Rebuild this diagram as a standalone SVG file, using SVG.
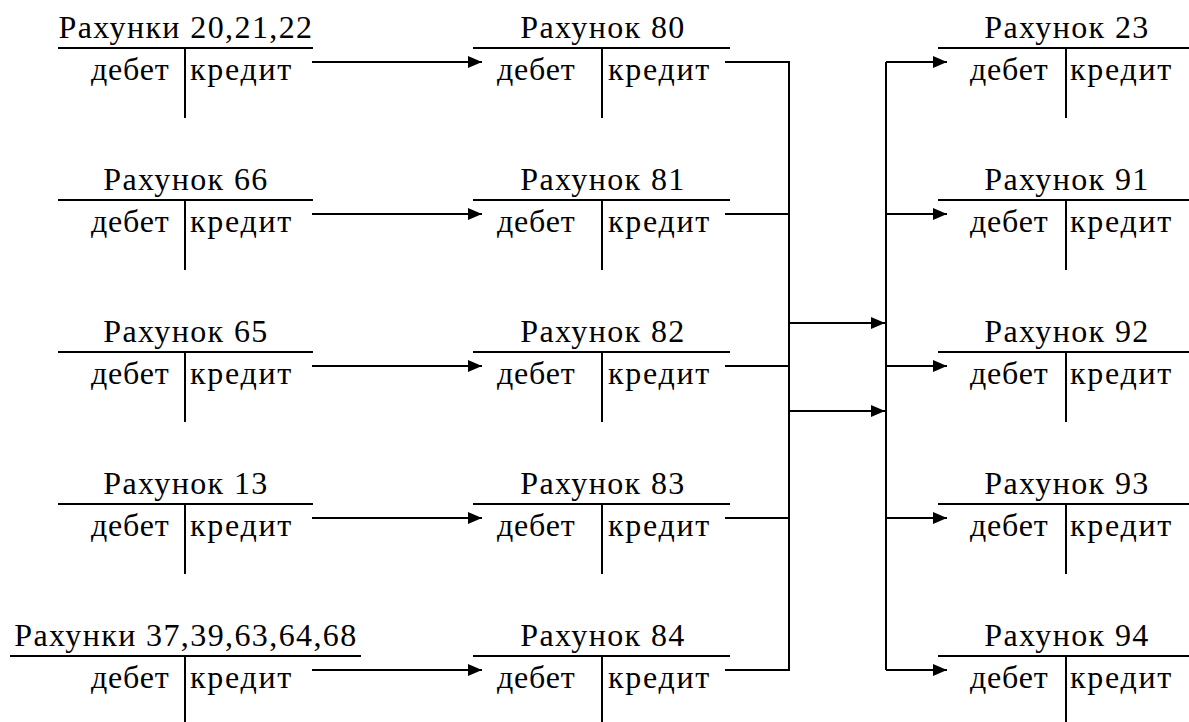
<svg xmlns="http://www.w3.org/2000/svg" width="1189" height="722" viewBox="0 0 1189 722">
<defs>
<marker id="ah" markerWidth="14" markerHeight="12" refX="14" refY="6" orient="auto" markerUnits="userSpaceOnUse">
<path d="M0,0 L14,6 L0,12 Z" fill="#000"/>
</marker>
<style>
text{font-family:"Liberation Serif",Tinos,"Times New Roman",Times,"DejaVu Serif",serif;font-size:32px;letter-spacing:1.4px;fill:#000}
.t{text-anchor:middle}
.d{letter-spacing:0.8px}
.k{letter-spacing:1.7px}
line,path.c{stroke:#000;stroke-width:2;fill:none}
</style>
</defs>
<rect width="1189" height="722" fill="#fff"/>
<g id="acc-20-21-22"><text class="t" x="186" y="38">Рахунки 20,21,22</text><line x1="58" y1="48" x2="313" y2="48"/><line x1="185" y1="48" x2="185" y2="118"/><text class="d" x="91" y="80">дебет</text><text class="k" x="190" y="80">кредит</text></g>
<g id="acc-66"><text class="t" x="186" y="190">Рахунок 66</text><line x1="58" y1="200" x2="313" y2="200"/><line x1="185" y1="200" x2="185" y2="270"/><text class="d" x="91" y="232">дебет</text><text class="k" x="190" y="232">кредит</text></g>
<g id="acc-65"><text class="t" x="186" y="342">Рахунок 65</text><line x1="58" y1="352" x2="313" y2="352"/><line x1="185" y1="352" x2="185" y2="422"/><text class="d" x="91" y="384">дебет</text><text class="k" x="190" y="384">кредит</text></g>
<g id="acc-13"><text class="t" x="186" y="494">Рахунок 13</text><line x1="58" y1="504" x2="313" y2="504"/><line x1="185" y1="504" x2="185" y2="574"/><text class="d" x="91" y="536">дебет</text><text class="k" x="190" y="536">кредит</text></g>
<g id="acc-37-68"><text class="t" x="186" y="646">Рахунки 37,39,63,64,68</text><line x1="10" y1="656" x2="361" y2="656"/><line x1="185" y1="656" x2="185" y2="722"/><text class="d" x="91" y="688">дебет</text><text class="k" x="190" y="688">кредит</text></g>
<g id="acc-80"><text class="t" x="603" y="38">Рахунок 80</text><line x1="473" y1="48" x2="730" y2="48"/><line x1="602" y1="48" x2="602" y2="118"/><text class="d" x="497" y="80">дебет</text><text class="k" x="608" y="80">кредит</text></g>
<g id="acc-81"><text class="t" x="603" y="190">Рахунок 81</text><line x1="473" y1="200" x2="730" y2="200"/><line x1="602" y1="200" x2="602" y2="270"/><text class="d" x="497" y="232">дебет</text><text class="k" x="608" y="232">кредит</text></g>
<g id="acc-82"><text class="t" x="603" y="342">Рахунок 82</text><line x1="473" y1="352" x2="730" y2="352"/><line x1="602" y1="352" x2="602" y2="422"/><text class="d" x="497" y="384">дебет</text><text class="k" x="608" y="384">кредит</text></g>
<g id="acc-83"><text class="t" x="603" y="494">Рахунок 83</text><line x1="473" y1="504" x2="730" y2="504"/><line x1="602" y1="504" x2="602" y2="574"/><text class="d" x="497" y="536">дебет</text><text class="k" x="608" y="536">кредит</text></g>
<g id="acc-84"><text class="t" x="603" y="646">Рахунок 84</text><line x1="473" y1="656" x2="730" y2="656"/><line x1="602" y1="656" x2="602" y2="722"/><text class="d" x="497" y="688">дебет</text><text class="k" x="608" y="688">кредит</text></g>
<g id="acc-23"><text class="t" x="1067" y="38">Рахунок 23</text><line x1="938" y1="48" x2="1189" y2="48"/><line x1="1066" y1="48" x2="1066" y2="118"/><text class="d" x="970" y="80">дебет</text><text class="k" x="1070" y="80">кредит</text></g>
<g id="acc-91"><text class="t" x="1067" y="190">Рахунок 91</text><line x1="938" y1="200" x2="1189" y2="200"/><line x1="1066" y1="200" x2="1066" y2="270"/><text class="d" x="970" y="232">дебет</text><text class="k" x="1070" y="232">кредит</text></g>
<g id="acc-92"><text class="t" x="1067" y="342">Рахунок 92</text><line x1="938" y1="352" x2="1189" y2="352"/><line x1="1066" y1="352" x2="1066" y2="422"/><text class="d" x="970" y="384">дебет</text><text class="k" x="1070" y="384">кредит</text></g>
<g id="acc-93"><text class="t" x="1067" y="494">Рахунок 93</text><line x1="938" y1="504" x2="1189" y2="504"/><line x1="1066" y1="504" x2="1066" y2="574"/><text class="d" x="970" y="536">дебет</text><text class="k" x="1070" y="536">кредит</text></g>
<g id="acc-94"><text class="t" x="1067" y="646">Рахунок 94</text><line x1="938" y1="656" x2="1189" y2="656"/><line x1="1066" y1="656" x2="1066" y2="722"/><text class="d" x="970" y="688">дебет</text><text class="k" x="1070" y="688">кредит</text></g>
<g id="connectors">
<line x1="312" y1="62" x2="482" y2="62" marker-end="url(#ah)"/>
<line x1="312" y1="214" x2="482" y2="214" marker-end="url(#ah)"/>
<line x1="312" y1="366" x2="482" y2="366" marker-end="url(#ah)"/>
<line x1="312" y1="518" x2="482" y2="518" marker-end="url(#ah)"/>
<line x1="312" y1="670" x2="482" y2="670" marker-end="url(#ah)"/>
<path class="c" d="M725,62 H789 V670 H725"/>
<line x1="725" y1="214" x2="789" y2="214"/>
<line x1="725" y1="366" x2="789" y2="366"/>
<line x1="725" y1="518" x2="789" y2="518"/>
<line x1="789" y1="323" x2="885" y2="323" marker-end="url(#ah)"/>
<line x1="789" y1="411" x2="885" y2="411" marker-end="url(#ah)"/>
<path class="c" d="M886,62 V670"/>
<line x1="886" y1="62" x2="947" y2="62" marker-end="url(#ah)"/>
<line x1="886" y1="214" x2="947" y2="214" marker-end="url(#ah)"/>
<line x1="886" y1="366" x2="947" y2="366" marker-end="url(#ah)"/>
<line x1="886" y1="518" x2="947" y2="518" marker-end="url(#ah)"/>
<line x1="886" y1="670" x2="947" y2="670" marker-end="url(#ah)"/>
</g>
</svg>
